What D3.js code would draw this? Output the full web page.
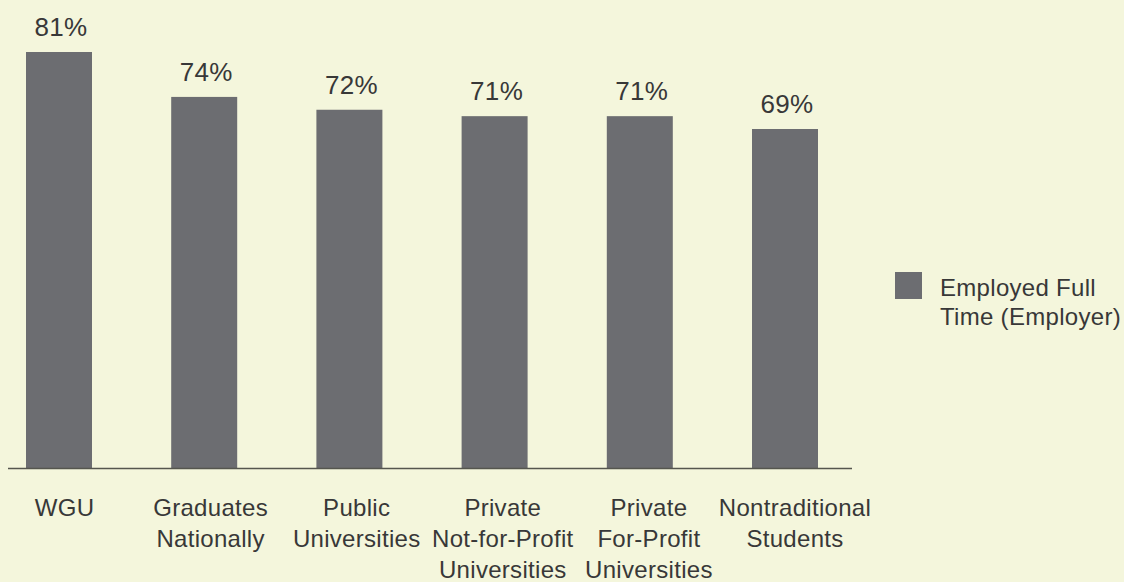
<!DOCTYPE html>
<html><head><meta charset="utf-8">
<script src="https://cdn.jsdelivr.net/npm/d3@7"></script>
<style>
html,body{margin:0;padding:0;background:#f4f6dc;}
svg{display:block;font-family:"Liberation Sans",Arial,Helvetica,sans-serif;}
</style></head>
<body><svg id="chart" width="1124" height="582"></svg>
<script>
const categories = [
  ["WGU"],
  ["Graduates","Nationally"],
  ["Public","Universities"],
  ["Private","Not-for-Profit","Universities"],
  ["Private","For-Profit","Universities"],
  ["Nontraditional","Students"]
];
const values = [81, 74, 72, 71, 71, 69];
const seriesName = ["Employed Full","Time (Employer)"];

const W = 1124, H = 582;
const barColor = "#6c6d71", textColor = "#383838", axisColor = "#55564e";
const svg = d3.select("#chart");
svg.append("rect").attr("width", W).attr("height", H).attr("fill", "#f4f6dc");

const baseY = 468;
const x = d3.scaleBand().domain(d3.range(values.length)).range([26, 818]).paddingInner(0.5455).paddingOuter(0);
const xLab = d3.scalePoint().domain(d3.range(values.length)).range([64.5, 795]);
const y = d3.scaleLinear().domain([16.17, 81]).range([baseY, 52]);

const g = svg.append("g");
g.selectAll("rect.bar").data(values).join("rect").attr("class","bar")
  .attr("x", (d,i)=>x(i)).attr("width", x.bandwidth())
  .attr("y", d=>y(d)).attr("height", d=>baseY - y(d))
  .attr("fill", barColor);

g.selectAll("text.val").data(values).join("text").attr("class","val")
  .attr("x", (d,i)=>x(i)+x.bandwidth()/2+2).attr("y", d=>y(d)-16)
  .attr("text-anchor","middle").attr("font-size", 26).attr("fill", textColor)
  .attr("letter-spacing", 0.3)
  .text(d=>d+"%");

// axis line
g.append("line").attr("x1", 8).attr("x2", 852).attr("y1", baseY+0.5).attr("y2", baseY+0.5)
  .attr("stroke", axisColor).attr("stroke-width", 1.3);

// category labels
const lab = g.selectAll("text.cat").data(categories).join("text").attr("class","cat")
  .attr("text-anchor","middle").attr("font-size", 24).attr("fill", textColor)
  .attr("letter-spacing", 0.3)
  .attr("x", (d,i)=>xLab(i)).attr("y", 516);
lab.selectAll("tspan").data(d=>d).join("tspan")
  .attr("x", function(){ return d3.select(this.parentNode).attr("x"); })
  .attr("dy", (d,j)=> j===0 ? 0 : 31)
  .text(d=>d);

// legend
const lg = svg.append("g");
lg.append("rect").attr("x", 895).attr("y", 272).attr("width", 27).attr("height", 27).attr("fill", barColor);
lg.append("text").attr("x", 940).attr("y", 296).attr("font-size", 24).attr("fill", textColor)
  .attr("letter-spacing", 0.3)
  .selectAll("tspan").data(seriesName).join("tspan")
  .attr("x", 940).attr("dy", (d,j)=> j===0 ? 0 : 29).text(d=>d);
</script></body></html>
